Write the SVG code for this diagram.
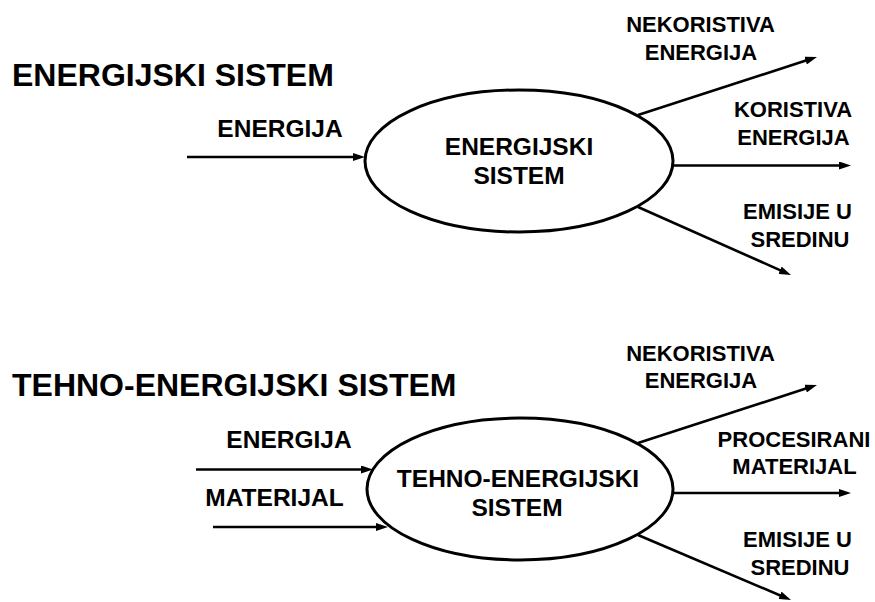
<svg xmlns="http://www.w3.org/2000/svg" width="875" height="602" viewBox="0 0 875 602">
<style>
text{font-family:"Liberation Sans",Arial,sans-serif;font-weight:bold;fill:#000}
.title{font-size:32px}
.lbl{font-size:24.5px;text-anchor:middle}
.rl{font-size:22px;text-anchor:middle}
.node ellipse{fill:#fff;stroke:#000;stroke-width:3}
.conn path{fill:none;stroke:#000;stroke-width:2.6;marker-end:url(#ah)}
</style>
<defs>
<marker id="ah" markerUnits="userSpaceOnUse" viewBox="0 0 12 8" refX="6" refY="4" markerWidth="12" markerHeight="8" orient="auto">
<path d="M0,0 L12,4 L0,8 z" fill="#000"/>
</marker>
</defs>
<rect width="875" height="602" fill="#fff"/>
<text class="title" x="12" y="86">ENERGIJSKI SISTEM</text>
<text class="title" x="12" y="396">TEHNO-ENERGIJSKI SISTEM</text>
<g class="conn">
<path d="M187,157 L359,157"/>
<path d="M638,115 L811.3,58.8"/>
<path d="M673,165.5 L845,165.5"/>
<path d="M638,207 L785.5,272.6"/>
<path d="M196,469.5 L367,469.5"/>
<path d="M213,527 L382,527"/>
<path d="M638,443 L811.3,386.8"/>
<path d="M673,493 L845,493"/>
<path d="M638,535 L785.5,597.7"/>
</g>
<g id="energijski" class="node">
<ellipse cx="519" cy="161" rx="154" ry="71"/>
<text class="lbl" x="519" y="154.5">ENERGIJSKI</text>
<text class="lbl" x="519" y="183.5">SISTEM</text>
</g>
<g id="tehno" class="node">
<ellipse cx="520" cy="489" rx="153" ry="71"/>
<text class="lbl" x="518" y="486.5">TEHNO-ENERGIJSKI</text>
<text class="lbl" x="517" y="515.5">SISTEM</text>
</g>
<g id="labels">
<text class="lbl" x="280" y="137">ENERGIJA</text>
<text class="rl" x="700.5" y="32">NEKORISTIVA</text>
<text class="rl" x="701" y="60">ENERGIJA</text>
<text class="rl" x="793" y="116.5">KORISTIVA</text>
<text class="rl" x="793.5" y="144.5">ENERGIJA</text>
<text class="rl" x="797.5" y="219">EMISIJE U</text>
<text class="rl" x="800" y="247">SREDINU</text>
<text class="lbl" x="289" y="447.5">ENERGIJA</text>
<text class="lbl" x="274.5" y="506">MATERIJAL</text>
<text class="rl" x="700.5" y="361">NEKORISTIVA</text>
<text class="rl" x="701" y="388">ENERGIJA</text>
<text class="rl" x="794" y="446.5">PROCESIRANI</text>
<text class="rl" x="794.5" y="474">MATERIJAL</text>
<text class="rl" x="797.5" y="546.5">EMISIJE U</text>
<text class="rl" x="800" y="574.5">SREDINU</text>
</g>
</svg>
